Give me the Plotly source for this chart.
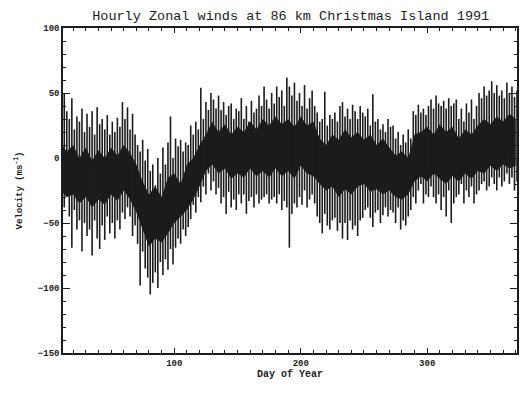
import plotly.graph_objects as go

# Sample days (every 2 days) and the high / low extent of the hourly winds
days = list(range(13, 372, 2))
hi = [50, 36, 30, 46, 22, 32, 28, 38, 20, 34,
      24, 36, 18, 39, 26, 30, 22, 33, 18, 28,
      20, 31, 24, 43, 30, 39, 22, 34, 18, 10,
      5, 14, -2, 7, -10, -5, -21, 0, -12, 8,
      -5, 12, 32, 0, 15, 9, 14, 5, 12, 10,
      25, 18, 28, 22, 54, 30, 43, 37, 50, 45,
      38, 48, 37, 43, 33, 40, 42, 30, 38, 36,
      46, 30, 40, 28, 44, 35, 38, 48, 40, 55,
      45, 38, 50, 42, 55, 47, 52, 40, 62, 55,
      48, 58, 44, 50, 40, 56, 38, 46, 52, 40,
      35, 28, 30, 51, 25, 33, 30, 35, 28, 40,
      43, 32, 38, 30, 41, 36, 30, 40, 35, 32,
      38, 25, 49, 28, 30, 22, 26, 20, 30, 24,
      25, 15, 20, 10, 18, 12, 22, 15, 36, 33,
      41, 35, 38, 33, 40, 45, 38, 48, 42, 40,
      44, 38, 46, 40, 42, 45, 30, 38, 28, 42,
      35, 45, 30, 40, 50, 46, 55, 48, 52, 59,
      50, 56, 48, 52, 46, 58, 50, 55, 47, 52]
lo = [-38, -30, -45, -69, -40, -55, -48, -72, -50, -60,
      -55, -75, -48, -62, -70, -52, -63, -45, -58, -50,
      -62, -48, -55, -42, -47, -38, -45, -60, -52, -66,
      -98, -72, -85, -92, -105, -96, -88, -100, -80, -90,
      -78, -86, -70, -82, -69, -62, -66, -55, -60, -53,
      -47, -36, -42, -30, -34, -22, -28, -12, -25, -18,
      -28, -23, -35, -30, -43, -26, -38, -32, -40, -28,
      -35, -28, -43, -33, -30, -38, -28, -35, -32, -30,
      -28, -35, -32, -30, -35, -28, -40, -33, -38, -69,
      -43, -35, -38, -30, -36, -25, -38, -32, -28, -35,
      -45, -50, -58, -43, -52, -55, -48, -46, -56, -50,
      -62, -50, -63, -48, -55, -52, -60, -48, -46, -40,
      -38, -46, -53, -42, -40, -50, -44, -38, -45, -40,
      -42, -50, -38, -55, -48, -52, -45, -40, -30, -35,
      -25, -20, -35, -28, -30, -22, -30, -35, -28, -40,
      -30, -45, -25, -50, -35, -30, -28, -20, -35, -25,
      -30, -22, -35, -28, -25, -20, -18, -25, -22, -15,
      -20, -25, -15, -22, -18, -12, -20, -15, -25, -18]

# Dense (solid black) core of the trace, every 5 days
core_days = list(range(10, 371, 5))
core_hi = [12, 5, 10, 0, 8, -2, 6, 0, 8, 2, 10, 4, -5, -18, -28, -22, -30, -15, -12, -20,
           -5, 0, 10, 18, 28, 20, 26, 18, 24, 20, 28, 22, 30, 25, 32, 26, 30, 24, 32, 25,
           28, 15, 10, 18, 14, 22, 16, 20, 14, 18, 10, 15, 8, 2, 5, 0, 18, 20, 24, 18,
           26, 20, 24, 15, 22, 18, 25, 30, 26, 32, 28, 34, 30]
core_lo = [-25, -30, -28, -35, -30, -38, -32, -36, -28, -33, -25, -32, -42, -55, -68, -62, -65, -58, -50, -45,
           -40, -32, -22, -10, -5, -12, -8, -16, -12, -15, -8, -14, -10, -15, -8, -14, -10, -16, -6, -12,
           -14, -20, -25, -22, -30, -24, -28, -22, -20, -26, -24, -28, -25, -30, -32, -28, -18, -14, -18, -12,
           -16, -20, -14, -18, -12, -16, -10, -12, -6, -10, -5, -8, -6]

title_text = "Hourly Zonal winds at 86 km Christmas Island 1991"
x_title = "Day of Year"
y_title = "Velocity (ms<sup>-1</sup>)"

ink = "#1c1c1c"

fig = go.Figure()

# core band
fig.add_trace(go.Scatter(x=core_days + core_days[::-1], y=core_hi + core_lo[::-1],
                         fill="toself", fillcolor=ink, line=dict(width=0),
                         mode="lines", hoverinfo="skip", showlegend=False))

# vertical hourly spread segments
sx, sy = [], []
for d, h, l in zip(days, hi, lo):
    sx += [d, d, None]
    sy += [l, h, None]
fig.add_trace(go.Scatter(x=sx, y=sy, mode="lines", line=dict(color=ink, width=1.6),
                         hoverinfo="skip", showlegend=False))

axis_font = dict(family="Liberation Mono", size=9, color=ink, weight="bold")

fig.update_layout(
    width=521, height=395,
    margin=dict(l=63, r=2, t=28, b=42),
    paper_bgcolor="white", plot_bgcolor="white",
    title=dict(text=title_text, x=0.558, xanchor="center", y=0.962, yanchor="middle",
               font=dict(family="Liberation Mono", size=13.5, color=ink)),
    showlegend=False,
)
fig.update_xaxes(
    range=[12, 371], tickvals=[100, 200, 300], ticktext=["100", "200", "300"],
    ticks="inside", ticklen=5, tickwidth=1, tickcolor=ink,
    minor=dict(dtick=10, tick0=0, ticks="inside", ticklen=3, tickcolor=ink),
    showline=True, linecolor=ink, linewidth=1.5, mirror="allticks",
    showgrid=False, zeroline=False, tickfont=axis_font,
    title=dict(text=x_title, font=dict(family="Liberation Mono", size=10, color=ink, weight="bold"),
               standoff=2),
)
fig.update_yaxes(
    range=[-150, 100], tickvals=[-150, -100, -50, 0, 50, 100],
    ticks="inside", ticklen=7, tickwidth=1, tickcolor=ink,
    minor=dict(dtick=10, tick0=0, ticks="inside", ticklen=3, tickcolor=ink),
    showline=True, linecolor=ink, linewidth=1.5, mirror="allticks",
    showgrid=False, zeroline=False, tickfont=axis_font,
    title=dict(text=y_title, font=dict(family="Liberation Mono", size=9, color=ink, weight="bold"),
               standoff=14),
)

fig.write_html("out.html")
